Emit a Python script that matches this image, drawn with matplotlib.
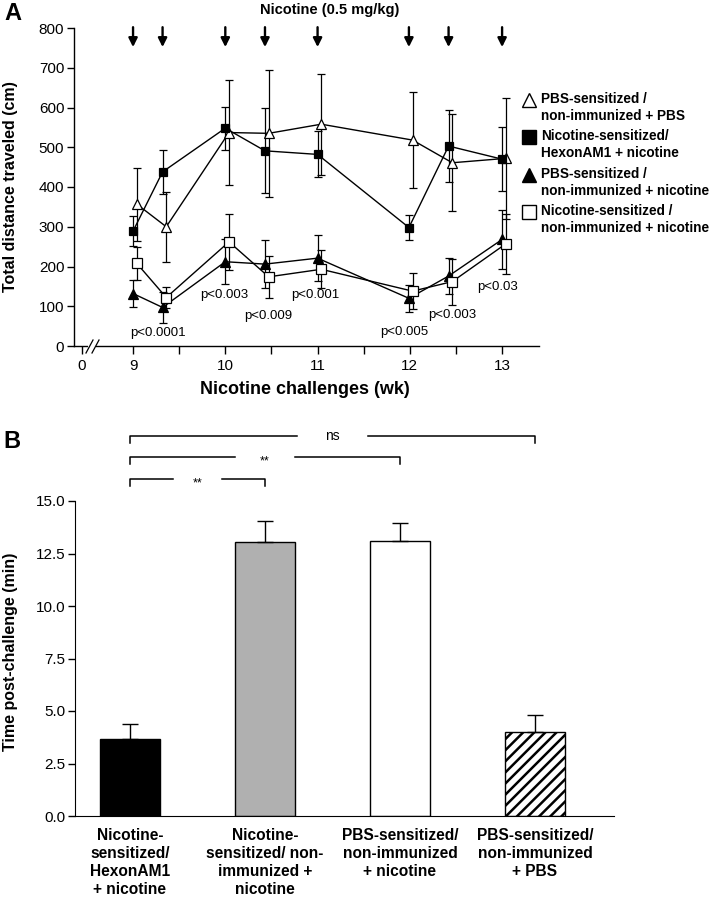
import numpy as np
import matplotlib
matplotlib.use("Agg")
import matplotlib.pyplot as plt
from matplotlib.lines import Line2D
from matplotlib.patches import Rectangle

plt.rcParams['font.family'] = ['Liberation Sans', 'DejaVu Sans']
NARROW = ['Liberation Sans Narrow', 'Liberation Sans', 'DejaVu Sans']

# ---- panel A data ----
weeks = [9, 9.32, 10, 10.43, 11, 11.99, 12.42, 13]
arrow_weeks = [9, 9.32, 10, 10.43, 11, 11.99, 12.42, 13]

pbs_pbs = [357, 300, 537, 535, 558, 518, 461, 472]
pbs_pbs_err = [92, 88, 133, 160, 127, 120, 122, 153]
hexon_nic = [289, 438, 548, 491, 482, 298, 503, 470]
hexon_nic_err = [37, 55, 54, 107, 58, 31, 90, 80]
pbs_nic = [132, 97, 212, 206, 221, 120, 176, 268]
pbs_nic_err = [33, 38, 56, 61, 57, 34, 45, 75]
nic_nonimm = [208, 122, 262, 174, 193, 138, 162, 257]
nic_nonimm_err = [42, 27, 70, 53, 48, 45, 58, 75]

p_labels = ['p<0.0001', 'p<0.003', 'p<0.009', 'p<0.001', 'p<0.005', 'p<0.003', 'p<0.03']
p_x = [9.27, 9.99, 10.47, 10.98, 11.94, 12.46, 12.95]
p_y = [32, 128, 75, 128, 34, 78, 149]

legend_labels = ['PBS-sensitized /\nnon-immunized + PBS',
                 'Nicotine-sensitized/\nHexonAM1 + nicotine',
                 'PBS-sensitized /\nnon-immunized + nicotine',
                 'Nicotine-sensitized /\nnon-immunized + nicotine']

# ---- panel B data ----
bar_labels = ['Nicotine-\nsensitized/\nHexonAM1\n+ nicotine',
              'Nicotine-\nsensitized/ non-\nimmunized +\nnicotine',
              'PBS-sensitized/\nnon-immunized\n+ nicotine',
              'PBS-sensitized/\nnon-immunized\n+ PBS']
bar_vals = [3.65, 13.06, 13.1, 4.0]
bar_err = [0.73, 1.0, 0.84, 0.81]
brackets = [(0, 3, 'ns', 18.1), (0, 2, '**', 17.1), (0, 1, '**', 16.05)]

W, H = 714, 902
fig = plt.figure(figsize=(W / 100, H / 100), dpi=100)

def fx(px):
    return px / W

def fy(py):
    return 1 - py / H

# ================= panel A =================
axA = fig.add_axes([fx(74), fy(346), fx(539) - fx(74), fy(28) - fy(346)])
axA.set_xlim(8.36, 13.40)
axA.set_ylim(0, 800)
for s in ['top', 'right']:
    axA.spines[s].set_visible(False)
axA.spines['left'].set_linewidth(1.0)
axA.spines['bottom'].set_linewidth(1.0)

off = 0.04
wk = np.array(weeks)
series = [
    (wk + off, pbs_pbs, pbs_pbs_err, '^', 'white', 6.5),
    (wk, hexon_nic, hexon_nic_err, 's', 'black', 5.5),
    (wk, pbs_nic, pbs_nic_err, '^', 'black', 6.5),
    (wk + off, nic_nonimm, nic_nonimm_err, 's', 'white', 6.5),
]
for x, y, e, m, fc, ms in series:
    axA.errorbar(x, y, yerr=e, fmt='none', ecolor='black', elinewidth=0.9,
                 capsize=2.8, capthick=0.9, zorder=2)
    axA.plot(x, y, color='black', lw=1.0, marker=m, markerfacecolor=fc,
             markeredgecolor='black', markeredgewidth=0.9, ms=ms, zorder=3)

axA.set_yticks(np.arange(0, 801, 100))
axA.tick_params(axis='y', direction='out', length=5, width=1, labelsize=11, pad=2)
axA.set_xticks([8.447, 9, 10, 11, 12, 13])
axA.set_xticklabels(['0', '9', '10', '11', '12', '13'])
axA.set_xticks([9.5, 10.5, 11.5, 12.5], minor=True)
axA.tick_params(axis='x', which='both', direction='out', length=6, width=1,
                labelsize=11, pad=3)

for w in arrow_weeks:
    axA.annotate('', xy=(w, 752), xytext=(w, 802),
                 arrowprops=dict(arrowstyle='-|>', lw=1.7, color='black',
                                 mutation_scale=13, shrinkA=0, shrinkB=0),
                 annotation_clip=False)

for t, x, y in zip(p_labels, p_x, p_y):
    axA.text(x, y, t, fontsize=9.5, ha='center', va='center')

# axis break
fig.add_artist(Rectangle((fx(88), fy(349)), fx(96) - fx(88), fy(343) - fy(349),
                         transform=fig.transFigure, facecolor='white',
                         edgecolor='none', zorder=5))
for x0 in [86, 92]:
    fig.add_artist(Line2D([fx(x0), fx(x0 + 7)], [fy(353), fy(340)],
                          transform=fig.transFigure, color='black', lw=0.9, zorder=6))

fig.text(fx(330), fy(10), 'Nicotine (0.5 mg/kg)', fontsize=10.5, fontweight='bold',
         ha='center', va='center')
fig.text(fx(4), fy(14), 'A', fontsize=17, fontweight='bold', ha='left', va='center')
fig.text(fx(11), fy(187), 'Total distance traveled (cm)', fontsize=11.5,
         fontweight='bold', rotation=90, ha='center', va='center')
fig.text(fx(305), fy(389), 'Nicotine challenges (wk)', fontsize=13,
         fontweight='bold', ha='center', va='center', family=NARROW)

# legend
markers = [('^', 'white'), ('s', 'black'), ('^', 'black'), ('s', 'white')]
rows = [100, 137, 175, 212]
for (m, fc), lab, r in zip(markers, legend_labels, rows):
    fig.add_artist(Line2D([fx(529)], [fy(r)], transform=fig.transFigure,
                          marker=m, ms=10 if m == '^' else 9.5, markerfacecolor=fc,
                          markeredgecolor='black', markeredgewidth=1.0, ls='none'))
    fig.text(fx(541), fy(r - 8), lab, fontsize=9.8, fontweight='bold',
             ha='left', va='top', linespacing=1.25)

# ================= panel B =================
axB = fig.add_axes([fx(75), fy(816), fx(614) - fx(75), fy(501) - fy(816)])
axB.set_xlim(-0.407, 3.585)
axB.set_ylim(0, 15)
for s in ['top', 'right']:
    axB.spines[s].set_visible(False)

xb = np.arange(len(bar_vals))
fills = ['black', '#b0b0b0', 'white', 'white']
hatches = [None, None, None, '///']
plt.rcParams['hatch.linewidth'] = 1.8
for i in range(len(bar_vals)):
    axB.bar(xb[i], bar_vals[i], width=0.445, color=fills[i], edgecolor='black',
            linewidth=1.0, hatch=hatches[i], zorder=2)
axB.errorbar(xb, bar_vals, yerr=[np.zeros(4), bar_err], fmt='none', ecolor='black',
             elinewidth=1.0, capsize=6, capthick=1.0, zorder=3)

axB.set_yticks(np.arange(0, 15.1, 2.5))
axB.set_yticklabels(['%.1f' % v for v in np.arange(0, 15.1, 2.5)])
axB.tick_params(axis='y', direction='out', length=5, width=1, labelsize=11, pad=2)
axB.set_xticks(xb)
axB.set_xticklabels(bar_labels, fontsize=11.2, fontweight='bold', family=NARROW,
                    linespacing=1.25)
axB.tick_params(axis='x', length=0, pad=9)

for a, b, txt, yv in brackets:
    xa, xbb = xb[a], xb[b]
    xm = (xa + xbb) / 2
    half = {'ns': 0.26, '**': 0.22}[txt] if b > 1 else 0.18
    axB.plot([xa, xa, xm - half], [yv - 0.33, yv, yv], color='black', lw=1.1,
             clip_on=False)
    axB.plot([xm + half, xbb, xbb], [yv, yv, yv - 0.33], color='black', lw=1.1,
             clip_on=False)
    axB.text(xm, yv + (0.0 if txt == 'ns' else -0.2), txt, fontsize=10 if txt == 'ns' else 9,
             ha='center', va='center', family=NARROW)

fig.text(fx(3), fy(442), 'B', fontsize=17, fontweight='bold', ha='left', va='center')
fig.text(fx(11), fy(652), 'Time post-challenge (min)', fontsize=11.5,
         fontweight='bold', rotation=90, ha='center', va='center')

fig.savefig('out.png', dpi=100)
